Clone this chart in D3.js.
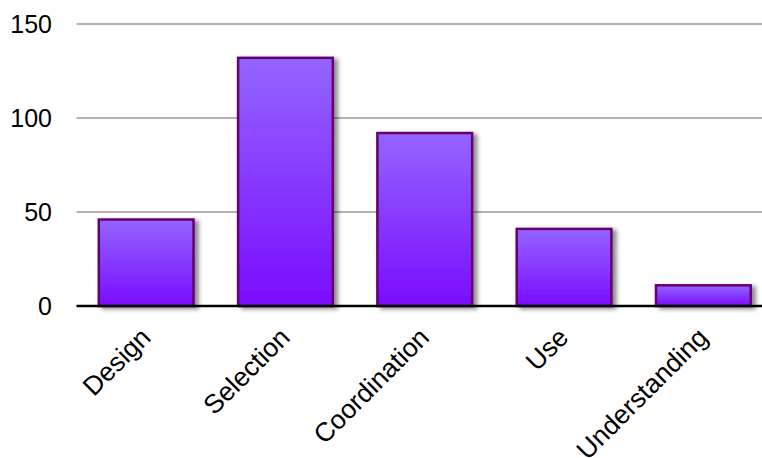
<!DOCTYPE html>
<html>
<head>
<meta charset="utf-8">
<script src="https://cdn.jsdelivr.net/npm/d3@7"></script>
<style>
  html, body { margin: 0; padding: 0; background: #fff; }
  svg { display: block; font-family: "Liberation Sans", Arial, Helvetica, sans-serif; }
</style>
</head>
<body>
<svg id="chart" width="762" height="458"></svg>
<script>
// Category counts
const categories = ["Design", "Selection", "Coordination", "Use", "Understanding"];
const counts = [46, 132, 92, 41, 11];
const yTicks = [0, 50, 100, 150];

const width = 762, height = 458;
const margin = { left: 76.5, right: -11, top: 24, bottom: 152 };

const svg = d3.select("#chart");

const x = d3.scaleBand()
  .domain(categories)
  .range([margin.left, width - margin.right])
  .paddingInner(0.32)
  .paddingOuter(0.16);

const y = d3.scaleLinear()
  .domain([0, 150])
  .range([height - margin.bottom, margin.top]);

const defs = svg.append("defs");
const grad = defs.append("linearGradient")
  .attr("id", "barFill")
  .attr("x1", 0).attr("y1", 0).attr("x2", 0).attr("y2", 1);
grad.append("stop").attr("offset", "0%").attr("stop-color", "#9465ff");
grad.append("stop").attr("offset", "100%").attr("stop-color", "#7a0cff");

const shadow = defs.append("filter")
  .attr("id", "barShadow")
  .attr("x", "-20%").attr("y", "-20%")
  .attr("width", "150%").attr("height", "150%");
shadow.append("feDropShadow")
  .attr("dx", 4).attr("dy", 2)
  .attr("stdDeviation", 2)
  .attr("flood-color", "#000")
  .attr("flood-opacity", 0.45);

// Horizontal gridlines
svg.append("g")
  .selectAll("line")
  .data(yTicks.filter(d => d > 0))
  .join("line")
  .attr("x1", margin.left)
  .attr("x2", width)
  .attr("y1", d => y(d))
  .attr("y2", d => y(d))
  .attr("stroke", "#b3b3b3")
  .attr("stroke-width", 2);

// Bars
svg.append("g")
  .selectAll("rect")
  .data(categories.map((c, i) => ({ c, v: counts[i] })))
  .join("rect")
  .attr("x", d => x(d.c))
  .attr("width", x.bandwidth())
  .attr("y", d => y(d.v))
  .attr("height", d => y(0) - y(d.v))
  .attr("fill", "url(#barFill)")
  .attr("stroke", "#66006e")
  .attr("stroke-width", 2.5)
  .attr("filter", "url(#barShadow)");

// Baseline
svg.append("line")
  .attr("x1", margin.left)
  .attr("x2", width)
  .attr("y1", y(0))
  .attr("y2", y(0))
  .attr("stroke", "#000")
  .attr("stroke-width", 2.5);

// Y axis labels
svg.append("g")
  .selectAll("text")
  .data(yTicks)
  .join("text")
  .attr("x", 52)
  .attr("y", d => y(d))
  .attr("dy", "0.36em")
  .attr("text-anchor", "end")
  .attr("font-size", 25)
  .attr("fill", "#000")
  .text(d => d);

// Category labels, rotated
svg.append("g")
  .selectAll("text")
  .data(categories)
  .join("text")
  .attr("text-anchor", "end")
  .attr("font-size", 26.5)
  .attr("fill", "#000")
  .attr("transform", d => `translate(${x(d) + x.bandwidth() / 2 + 6},${y(0) + 33}) rotate(-45)`)
  .text(d => d);
</script>
</body>
</html>
